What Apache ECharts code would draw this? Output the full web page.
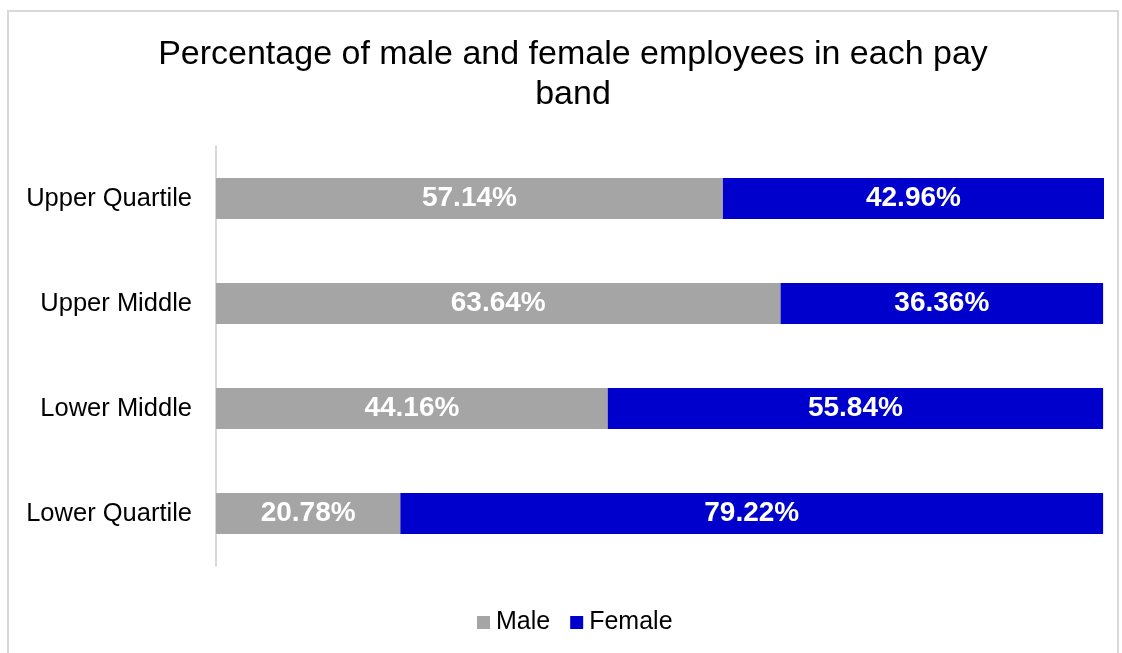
<!DOCTYPE html>
<html>
<head>
<meta charset="utf-8">
<script src="https://cdn.jsdelivr.net/npm/echarts@6/dist/echarts.min.js"></script>
<style>
html,body{margin:0;padding:0;background:#fff;}
#frame{position:absolute;left:7px;top:10px;width:1112px;height:660px;border:2px solid #d9d9d9;box-sizing:border-box;}
#chart{position:absolute;left:0;top:0;width:1122px;height:653px;}
</style>
</head>
<body>
<div id="frame"></div>
<div id="chart"></div>
<script>
const categories = ['Lower Quartile', 'Lower Middle', 'Upper Middle', 'Upper Quartile'];
const maleValues = [20.78, 44.16, 63.64, 57.14];
const femaleValues = [79.22, 55.84, 36.36, 42.96];
const seriesNames = ['Male', 'Female'];

const chart = echarts.init(document.getElementById('chart'));
const labelStyle = {
  show: true,
  position: 'inside',
  color: '#ffffff',
  fontFamily: 'Liberation Sans, Arial, sans-serif',
  fontWeight: 'bold',
  fontSize: 28,
  formatter: p => p.value.toFixed(2) + '%'
};
chart.setOption({
  backgroundColor: 'transparent',
  animation: false,
  title: {
    text: 'Percentage of male and female employees in each pay\nband',
    left: 568,
    textAlign: 'center',
    top: 30,
    textStyle: {
      fontFamily: 'Liberation Sans, Arial, sans-serif',
      fontWeight: 'normal',
      fontSize: 34,
      lineHeight: 40,
      color: '#000000'
    }
  },
  legend: {
    top: 605,
    left: 472,
    itemWidth: 13,
    itemHeight: 13,
    itemGap: 20,
    icon: 'rect',
    textStyle: {
      fontFamily: 'Liberation Sans, Arial, sans-serif',
      fontSize: 25,
      color: '#000000',
      padding: [0, 0, 0, 1]
    },
    data: seriesNames
  },
  grid: {
    left: 216,
    right: 18,
    top: 146,
    bottom: 87,
    containLabel: false
  },
  xAxis: {
    type: 'value',
    min: 0,
    max: 100.1,
    show: false,
    splitLine: { show: false }
  },
  yAxis: {
    type: 'category',
    data: categories,
    axisLine: { show: true, lineStyle: { color: '#d9d9d9', width: 2 } },
    axisTick: { show: false },
    axisLabel: {
      fontFamily: 'Liberation Sans, Arial, sans-serif',
      fontSize: 25.5,
      color: '#000000',
      margin: 24
    }
  },
  series: [
    {
      name: seriesNames[0],
      type: 'bar',
      stack: 'total',
      barWidth: '39%',
      itemStyle: { color: '#a5a5a5' },
      label: labelStyle,
      data: maleValues
    },
    {
      name: seriesNames[1],
      type: 'bar',
      stack: 'total',
      barWidth: '39%',
      itemStyle: { color: '#0000cc' },
      label: labelStyle,
      data: femaleValues
    }
  ]
});
</script>
</body>
</html>
